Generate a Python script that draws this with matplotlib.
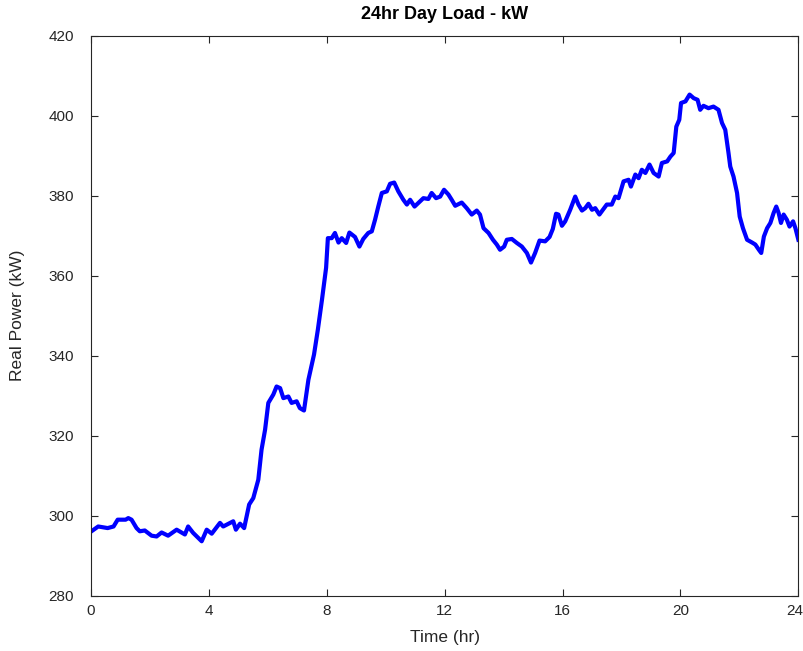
import matplotlib
matplotlib.use('Agg')
from matplotlib import pyplot as plt
from matplotlib.transforms import ScaledTranslation

# time (hr) and real power (kW)
hours = [0.02, 0.25, 0.57, 0.77, 0.91, 1.18, 1.27, 1.38, 1.55, 1.66, 1.83, 2.06, 2.23, 2.40, 2.62,
         2.91, 3.19, 3.30, 3.47, 3.76, 3.93, 4.10, 4.38, 4.49, 4.83, 4.92, 5.06, 5.20, 5.37, 5.51,
         5.68, 5.79, 5.91, 6.02, 6.19, 6.30, 6.42, 6.53, 6.70, 6.81, 6.98, 7.09, 7.23, 7.38, 7.57,
         7.70, 7.84, 7.98, 8.04, 8.17, 8.28, 8.40, 8.51, 8.66, 8.77, 8.96, 9.11, 9.24, 9.41, 9.53,
         9.64, 9.75, 9.87, 10.04, 10.15, 10.29, 10.43, 10.60, 10.72, 10.83, 10.98, 11.11, 11.28,
         11.45, 11.56, 11.71, 11.85, 11.98, 12.13, 12.24, 12.36, 12.58, 12.75, 12.92, 13.09, 13.20,
         13.32, 13.49, 13.64, 13.77, 13.88, 14.02, 14.11, 14.28, 14.45, 14.62, 14.79, 14.93, 15.07,
         15.22, 15.41, 15.56, 15.67, 15.78, 15.86, 15.98, 16.09, 16.26, 16.43, 16.54, 16.66, 16.77,
         16.88, 17.00, 17.11, 17.25, 17.50, 17.67, 17.79, 17.90, 18.07, 18.24, 18.32, 18.47, 18.58,
         18.69, 18.81, 18.95, 19.09, 19.26, 19.37, 19.55, 19.66, 19.77, 19.86, 19.96, 20.02, 20.17,
         20.31, 20.45, 20.58, 20.67, 20.78, 20.95, 21.12, 21.29, 21.41, 21.52, 21.63, 21.69, 21.80,
         21.92, 22.01, 22.12, 22.26, 22.43, 22.54, 22.66, 22.74, 22.83, 22.94, 23.05, 23.16, 23.25,
         23.33, 23.41, 23.50, 23.61, 23.70, 23.82, 23.90, 24.0]
power = [296.1, 297.3, 296.9, 297.3, 299.0, 299.0, 299.4, 299.0, 296.9, 296.1, 296.3, 295.0, 294.8,
         295.8, 295.0, 296.5, 295.3, 297.3, 295.7, 293.6, 296.5, 295.5, 298.2, 297.3, 298.6, 296.5,
         298.0, 296.9, 302.8, 304.4, 309.0, 316.5, 321.5, 328.2, 330.3, 332.3, 331.9, 329.4, 329.8,
         328.2, 328.6, 326.9, 326.3, 334.0, 340.3, 346.5, 354.0, 362.0, 369.4, 369.4, 370.7, 368.3,
         369.4, 368.2, 370.8, 369.7, 367.3, 369.2, 370.7, 371.1, 374.0, 377.3, 380.7, 381.1, 383.0,
         383.3, 381.1, 379.0, 377.8, 379.0, 377.3, 378.2, 379.4, 379.2, 380.7, 379.4, 379.8, 381.5,
         380.3, 379.0, 377.5, 378.3, 376.9, 375.3, 376.3, 375.3, 371.9, 370.7, 369.0, 367.8, 366.5,
         367.3, 369.0, 369.2, 368.2, 367.3, 365.7, 363.3, 365.7, 368.8, 368.6, 369.7, 371.7, 375.5,
         375.3, 372.5, 373.6, 376.5, 379.8, 377.8, 376.3, 376.9, 378.0, 376.5, 376.9, 375.3, 377.8,
         377.8, 379.8, 379.4, 383.6, 384.0, 382.3, 385.3, 384.4, 386.5, 385.7, 387.8, 385.7, 384.8,
         388.2, 388.6, 389.8, 390.7, 397.3, 399.0, 403.2, 403.6, 405.3, 404.4, 404.0, 401.5, 402.5,
         401.9, 402.3, 401.5, 398.2, 396.5, 390.7, 387.3, 384.8, 380.7, 374.8, 371.9, 369.0, 368.3,
         367.8, 366.5, 365.7, 369.8, 371.9, 373.2, 375.7, 377.3, 375.7, 373.2, 375.3, 374.0, 372.3,
         373.6, 371.9, 369.0]

x_ticks = [0, 4, 8, 12, 16, 20, 24]
y_ticks = [280, 300, 320, 340, 360, 380, 400, 420]

plt.rcParams['font.family'] = ['Liberation Sans', 'DejaVu Sans']
fig = plt.figure(figsize=(8.04, 6.51), dpi=100)
ax = fig.add_axes([0.113, 0.085, 0.880, 0.860])

ax.plot(hours, power, color='blue', linewidth=3)
ax.set_xlim(0, 24)
ax.set_ylim(280, 420)
ax.set_xticks(x_ticks)
ax.set_yticks(y_ticks)
ax.tick_params(direction='in', top=True, right=True, length=5, labelsize=11,
               colors='#262626')
ax.tick_params(axis='x', pad=6)
ax.tick_params(axis='y', pad=12)
for s in ax.spines.values():
    s.set_color('#262626')
    s.set_linewidth(0.8)

# the last x label is pulled in so it stays inside the figure
fig.canvas.draw()
last = ax.get_xticklabels()[-1]
last.set_transform(last.get_transform() + ScaledTranslation(-4 / 100, 0, fig.dpi_scale_trans))

ax.set_title('24hr Day Load - kW', fontsize=13, fontweight='bold', pad=12)
ax.set_xlabel('Time (hr)', fontsize=12.5, color='#262626')
ax.set_ylabel('Real Power (kW)', fontsize=12.5, color='#262626')
ax.yaxis.set_label_coords(-0.093, 0.5)
ax.xaxis.set_label_coords(0.5, -0.062)

fig.savefig('out.png', dpi=100)
